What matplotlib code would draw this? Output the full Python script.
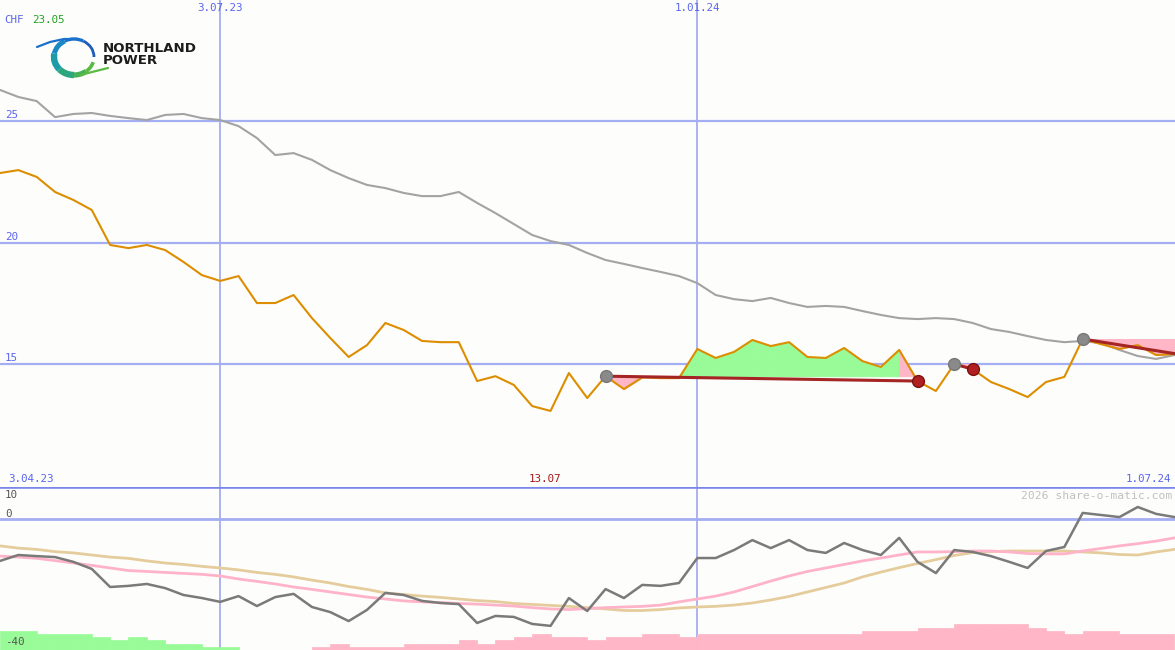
import numpy as np
import matplotlib
matplotlib.use('Agg')
import matplotlib.pyplot as plt
from matplotlib.patches import Arc

# --- data (weekly points, week 0 = left edge) ---
weeks = list(range(65))

price = [22.86, 22.98, 22.70, 22.08, 21.75, 21.34, 19.90, 19.77, 19.90, 19.69,
         19.20, 18.66, 18.42, 18.62, 17.51, 17.51, 17.84, 16.89, 16.07, 15.29,
         15.78, 16.69, 16.40, 15.95, 15.90, 15.90, 14.30, 14.50, 14.14, 13.27,
         13.07, 14.63, 13.60, 14.50, 13.97, 14.45, 14.42, 14.42, 15.62, 15.25,
         15.50, 15.99, 15.74, 15.90, 15.29, 15.25, 15.66, 15.12, 14.88, 15.58,
         14.30, 13.89, 15.00, 14.79, 14.26, 13.97, 13.64, 14.26, 14.47, 16.03,
         15.82, 15.62, 15.78, 15.37, 15.41]

avg200 = [26.28, 25.99, 25.82, 25.16, 25.29, 25.33, 25.21, 25.12, 25.04, 25.25,
          25.29, 25.12, 25.04, 24.79, 24.30, 23.60, 23.68, 23.40, 22.98, 22.65,
          22.37, 22.24, 22.04, 21.91, 21.91, 22.08, 21.63, 21.21, 20.76, 20.31,
          20.06, 19.90, 19.57, 19.28, 19.12, 18.95, 18.79, 18.62, 18.33, 17.84,
          17.67, 17.59, 17.72, 17.51, 17.35, 17.39, 17.35, 17.18, 17.02, 16.89,
          16.85, 16.89, 16.85, 16.69, 16.44, 16.32, 16.15, 15.99, 15.90, 15.95,
          15.86, 15.58, 15.33, 15.21, 15.37]

# trades: entry week, exit week, stop at start / end
trade_entry = [33, 52, 59]
trade_exit = [50, 53, 64]
trade_open = [False, False, True]
stop_start = [14.50, 15.00, 16.03]
stop_end = [14.30, 14.79, 15.43]

# lower panel
momentum = [-13.1, -11.25, -11.6, -11.9, -13.4, -15.6, -21.25, -20.9, -20.3, -21.6,
            -23.75, -24.7, -25.9, -24.1, -27.2, -24.4, -23.4, -27.5, -29.1, -31.9,
            -28.4, -23.1, -23.75, -25.6, -26.25, -26.6, -32.5, -30.3, -30.6, -32.8,
            -33.4, -24.7, -28.75, -21.9, -24.7, -20.6, -20.9, -20.0, -12.2, -12.2,
            -9.7, -6.6, -9.1, -6.6, -9.7, -10.6, -7.5, -9.7, -11.25, -5.9,
            -13.4, -16.9, -9.7, -10.3, -11.6, -13.4, -15.3, -10.0, -8.75, 1.9,
            1.25, 0.6, 3.75, 1.6, 0.6]

mom_fast = [-11.6, -11.9, -12.3, -13.0, -13.75, -14.5, -15.3, -16.1, -16.4, -16.7,
            -17.0, -17.3, -17.8, -18.75, -19.5, -20.3, -21.25, -22.0, -22.8, -23.6,
            -24.4, -25.0, -25.6, -25.9, -26.1, -26.4, -26.6, -26.9, -27.2, -27.7,
            -28.1, -28.3, -28.0, -27.7, -27.5, -27.3, -26.9, -25.9, -25.0, -24.1,
            -22.8, -21.1, -19.4, -17.8, -16.4, -15.3, -14.2, -13.1, -12.2, -11.25,
            -10.3, -10.3, -10.2, -10.0, -10.0, -10.3, -10.8, -10.9, -10.9, -10.0,
            -9.2, -8.4, -7.7, -6.9, -5.9]

mom_slow = [-8.4, -9.1, -9.5, -10.2, -10.6, -11.25, -11.9, -12.3, -13.1, -13.75,
            -14.2, -14.8, -15.3, -15.9, -16.7, -17.3, -18.1, -19.1, -20.0, -21.1,
            -22.0, -23.1, -23.6, -24.1, -24.5, -25.0, -25.5, -25.8, -26.4, -26.7,
            -27.0, -27.3, -27.7, -28.1, -28.6, -28.6, -28.3, -27.8, -27.5, -27.3,
            -26.9, -26.25, -25.3, -24.2, -22.8, -21.4, -20.0, -18.1, -16.6, -15.2,
            -13.9, -12.7, -11.4, -10.5, -10.2, -10.0, -10.0, -10.0, -10.0, -10.3,
            -10.6, -11.1, -11.25, -10.3, -9.5]

# bar heights above the bottom; positive = green, negative = pink
bars = [6, 6, 5, 5, 5, 4, 3, 4, 3, 2, 2, 1, 1, 0, 0, 0, 0,
        -1, -2, -1, -1, -1, -2, -2, -2, -3, -2, -3, -4, -5, -4, -4, -3,
        -4, -4, -5, -5, -4, -5, -5, -5, -5, -5, -5, -5, -5, -5, -6, -6, -6,
        -7, -7, -8, -8, -8, -8, -7, -6, -5, -6, -6, -5, -5, -5]

grid_weeks = [12, 38]
grid_labels = ['3.07.23', '1.01.24']
price_levels = [25, 20, 15]

# --- colours ---
bg = '#fdfefb'
grid_c = '#a4aef2'
label_c = '#5a64ee'
orange = '#dd8d00'
gray = '#a3a3a3'
green_fill = '#98fb98'
pink_fill = '#ffb6c6'
stop_c = '#a52424'
mono = 'DejaVu Sans Mono'

fig = plt.figure(figsize=(11.75, 6.5), dpi=100, facecolor=bg)
ax = fig.add_axes([0, 163 / 650, 1, 487 / 650], facecolor=bg)
ax2 = fig.add_axes([0, 0, 1, 163 / 650], facecolor=bg)
for a in (ax, ax2):
    a.set_xlim(0, 64.03)
    a.set_xticks([])
    a.set_yticks([])
    for s in a.spines.values():
        s.set_visible(False)
    for w in grid_weeks:
        a.axvline(w, color=grid_c, lw=1.3, zorder=1)
ax.set_ylim(9.94, 29.98)
ax2.set_ylim(-40.94, 10)

# --- main panel ---
for lv in price_levels:
    ax.axhline(lv, color=grid_c, lw=1.6, zorder=1)
    ax.annotate(str(lv), xy=(0, lv), xycoords=('axes fraction', 'data'),
                xytext=(5, 1), textcoords='offset pixels', va='bottom',
                fontsize=7.8, family=mono, color=label_c)

# trade fills (colour per weekly segment)
for i in range(len(trade_entry)):
    e, x_ = trade_entry[i], trade_exit[i]
    lvl = price[e]
    for k in range(e, x_):
        c = green_fill if price[k + 1] >= lvl else pink_fill
        ax.fill_between(weeks[k:k + 2], price[k:k + 2], lvl, facecolor=c,
                        edgecolor=c, lw=0.7, zorder=2)

ax.plot(weeks, avg200, color=gray, lw=1.5, zorder=3)
ax.plot(weeks, price, color=orange, lw=1.5, zorder=4)

for i in range(len(trade_entry)):
    e, x_ = trade_entry[i], trade_exit[i]
    ax.plot([e, x_], [stop_start[i], stop_end[i]], color=stop_c, lw=2.2, zorder=5)
    ax.plot(e, price[e], 'o', ms=8.5, color='#8a8a8a', mec='#777777', zorder=6)
    if not trade_open[i]:
        ax.plot(x_, price[x_], 'o', ms=8.5, color='#b02020', mec='#7a1010', zorder=6)

# date labels
for w, lbl in zip(grid_weeks, grid_labels):
    ax.text(w, 0.984, lbl, transform=ax.get_xaxis_transform(), ha='center', va='center',
            fontsize=7.8, family=mono, color=label_c)
ax.text(0.007, 0.0164, '3.04.23', transform=ax.transAxes, ha='left', va='center',
        fontsize=7.8, family=mono, color=label_c)
ax.text(29.7, 0.0164, '13.07', transform=ax.get_xaxis_transform(), ha='center', va='center',
        fontsize=7.8, family=mono, color='#a01818')
ax.text(0.997, 0.0164, '1.07.24', transform=ax.transAxes, ha='right', va='center',
        fontsize=7.8, family=mono, color=label_c)
ax.text(0.004, 0.959, 'CHF', transform=ax.transAxes, ha='left', va='center',
        fontsize=7.8, family=mono, color=label_c)
ax.text(0.027, 0.959, '23.05', transform=ax.transAxes, ha='left', va='center',
        fontsize=7.8, family=mono, color='#22a022')

# --- lower panel ---
for k, h in enumerate(bars):
    if h == 0:
        continue
    c = green_fill if h > 0 else pink_fill
    ax2.bar(weeks[k], abs(h), width=1.0, bottom=-40.94, align='edge', color=c,
            edgecolor=c, lw=0.5, zorder=2)

ax2.axhline(0, color=grid_c, lw=2, zorder=1)
ax2.plot(weeks, mom_slow, color='#e5cc9c', lw=2, zorder=3)
ax2.plot(weeks, mom_fast, color='#ffb3c9', lw=2, zorder=3)
ax2.plot(weeks, momentum, color='#7a7a7a', lw=1.8, zorder=4)
ax2.axhline(10, color='#7b86ea', lw=2.6, zorder=5)

ax2.annotate('10', xy=(0, 10), xycoords=('axes fraction', 'data'), xytext=(5, -3),
             textcoords='offset pixels', va='top', fontsize=7.8, family=mono, color='#555555')
ax2.annotate('0', xy=(0, 0), xycoords=('axes fraction', 'data'), xytext=(5, 0),
             textcoords='offset pixels', va='bottom', fontsize=7.8, family=mono, color='#555555')
ax2.annotate('-40', xy=(0, -40), xycoords=('axes fraction', 'data'), xytext=(5, 0),
             textcoords='offset pixels', va='bottom', fontsize=7.8, family=mono, color='#555555')
ax2.text(0.998, 0.945, '2026 share-o-matic.com', transform=ax2.transAxes, ha='right',
         va='center', fontsize=8.2, family=mono, color='#c0c0c0', zorder=6)

# --- logo (pixel overlay, y points down) ---
ov = fig.add_axes([0, 0, 1, 1])
ov.set_xlim(0, 1175)
ov.set_ylim(650, 0)
ov.axis('off')
# ring pieces by screen angle (0 = right, 90 = up)
ring = [(0, 60, '#1f5cb8', 2.0), (60, 120, '#1a70cc', 2.4), (120, 170, '#1a88c4', 3.6),
        (170, 220, '#1c9ca8', 4.6), (220, 270, '#2aa77e', 4.6), (270, 310, '#46b15a', 3.8),
        (310, 345, '#5cb944', 2.6)]
for p1, p2, col, lw in ring:
    ov.add_patch(Arc((74, 57), 40, 36, theta1=360 - p2, theta2=360 - p1, color=col, lw=lw))
ov.plot([37, 50, 64, 78], [47, 42, 39, 39], color='#1a70cc', lw=1.6, solid_capstyle='round')
ov.plot([80, 92, 108], [75, 72, 68], color='#5cb944', lw=1.6, solid_capstyle='round')
ov.text(103, 48, 'NORTHLAND', fontsize=9.6, fontweight='bold', color='#1c1c1c',
        va='center', ha='left', family='DejaVu Sans')
ov.text(103, 60, 'POWER', fontsize=9.6, fontweight='bold', color='#1c1c1c',
        va='center', ha='left', family='DejaVu Sans')

fig.savefig('out.png', dpi=100, facecolor=bg)
